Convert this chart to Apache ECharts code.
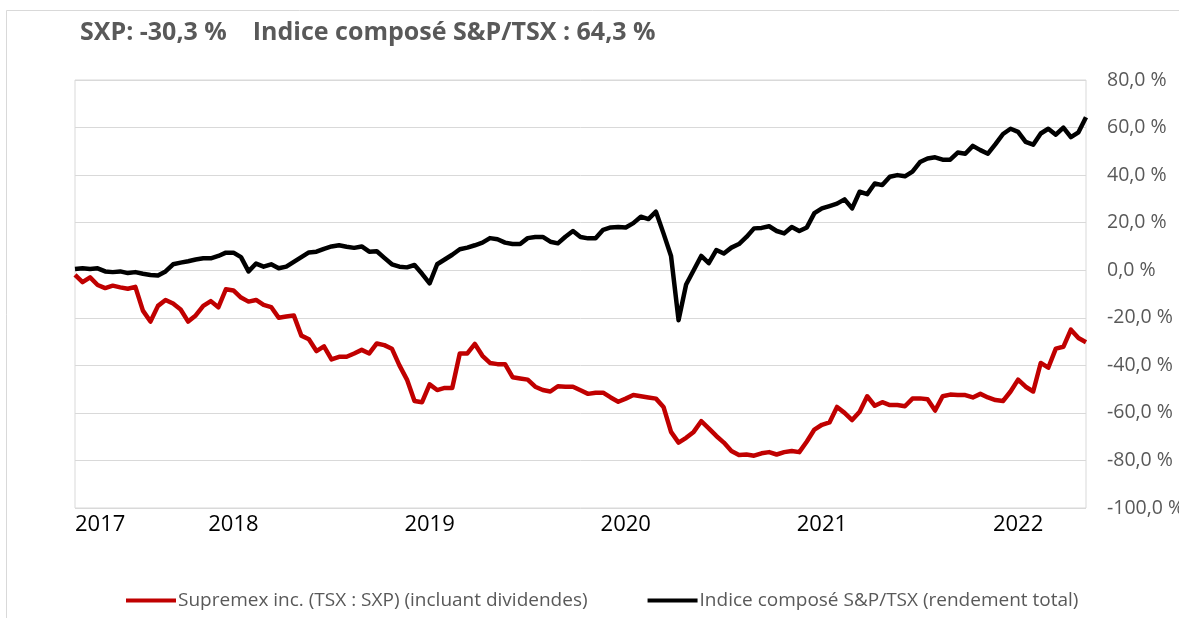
<!DOCTYPE html>
<html>
<head>
<meta charset="utf-8">
<script src="https://cdn.jsdelivr.net/npm/echarts@6/dist/echarts.min.js"></script>
<style>
html,body{margin:0;padding:0;background:#fff;}
#chart{width:1179px;height:622px;}
</style>
</head>
<body>
<div id="chart"></div>
<script>
// ---- data (biweekly, starting mid-March 2017) ----
const startDate = '2017-03-18';
const stepDays = 14;
const titleText = 'SXP: -30,3 %    Indice composé S&P/TSX : 64,3 %';
const seriesNames = ['Supremex inc. (TSX : SXP) (incluant dividendes)', 'Indice composé S&P/TSX (rendement total)'];
const yTicks = { min: -100, max: 80, interval: 20 };

const sxp = [
  -2, -5, -3, -6.2, -7.5, -6.5, -7.2, -7.8, -7, -17,
  -21.6, -15, -12.5, -14, -16.5, -21.6, -19, -15, -13, -15.6,
  -8, -8.5, -11.5, -13.2, -12.5, -14.6, -15.5, -20, -19.5, -19,
  -27.5, -29, -34, -32, -37.5, -36.4, -36.4, -35, -33.5, -35,
  -30.8, -31.5, -33, -40, -46, -55, -55.5, -48, -50.4, -49.5,
  -49.5, -35, -35, -31, -36, -39, -39.5, -39.5, -45, -45.5,
  -46, -49, -50.4, -51, -48.8, -49, -49, -50.5, -52, -51.5,
  -51.5, -53.5, -55.3, -54, -52.5, -53, -53.5, -54, -57.5, -68,
  -72.5, -70.5, -68, -63.5, -66.5, -69.7, -72.5, -76, -77.7, -77.5,
  -78, -77, -76.5, -77.5, -76.5, -76, -76.5, -72, -67, -65,
  -64, -57.5, -60, -63, -59.5, -53, -57, -55.5, -56.7, -56.7,
  -57.2, -54, -53.9, -54.3, -59, -53, -52.3, -52.5, -52.5, -53.5,
  -52, -53.5, -54.6, -55, -51, -46, -49, -51, -39, -41,
  -33, -32.2, -25, -28.5, -30.3
];

const tsx = [
  0.5, 0.8, 0.5, 0.8, -0.5, -0.8, -0.5, -1.2, -0.8, -1.5,
  -2.0, -2.2, -0.5, 2.5, 3.2, 3.8, 4.5, 5.0, 5.0, 6.0,
  7.4, 7.4, 5.5, -0.5, 2.8, 1.5, 2.5, 0.8, 1.5, 3.5,
  5.5, 7.5, 7.8, 9.0, 10.0, 10.5, 9.9, 9.4, 10.0, 7.8,
  8.0, 5.2, 2.5, 1.5, 1.2, 2.2, -1.5, -5.5, 2.5, 4.5,
  6.5, 8.8, 9.5, 10.5, 11.6, 13.5, 13.0, 11.6, 11.0, 11.0,
  13.5, 14.0, 14.0, 12.0, 11.3, 14.1, 16.5, 14.0, 13.4, 13.4,
  17.0, 18.0, 18.2, 18.0, 19.8, 22.5, 21.5, 24.6, 15.5, 6,
  -21, -6, 0, 6, 3, 8.5, 7, 9.5, 11, 14,
  17.6, 17.8, 18.5, 16.5, 15.5, 18.2, 16.5, 18, 24, 26,
  27, 28, 29.8, 26, 33, 32, 36.5, 35.8, 39.3, 40,
  39.5, 41.5, 45.5, 47, 47.5, 46.5, 46.5, 49.5, 49, 52.3,
  50.5, 49, 53, 57.3, 59.5, 58.2, 54, 52.8, 57.5, 59.5,
  57, 60, 56, 58, 64.3
];

// ---- categories (dates) ----
const dates = [];
(function(){
  const d0 = new Date(startDate + 'T00:00:00Z');
  for (let i = 0; i < sxp.length; i++) {
    const d = new Date(d0.getTime() + i * stepDays * 86400000);
    dates.push(d.toISOString().slice(0, 10));
  }
})();
const yearStartIdx = new Set();
dates.forEach((d, i) => {
  if (i === 0 || d.slice(0, 4) !== dates[i - 1].slice(0, 4)) yearStartIdx.add(i);
});

const chart = echarts.init(document.getElementById('chart'));
const option = {
  animation: false,
  backgroundColor: '#ffffff',
  title: {
    text: titleText,
    left: 80,
    top: 20,
    padding: 0,
    textStyle: { fontFamily: 'Open Sans', fontSize: 25, fontWeight: 'bold', color: '#595959' }
  },
  graphic: [
    { type: 'line', shape: { x1: 6.5, y1: 10.5, x2: 1179, y2: 10.5 }, style: { stroke: '#D9D9D9', lineWidth: 1 } },
    { type: 'line', shape: { x1: 6.5, y1: 10.5, x2: 6.5, y2: 618 }, style: { stroke: '#D9D9D9', lineWidth: 1 } }
  ],
  legend: {
    left: 126,
    top: 591,
    padding: 0,
    itemWidth: 50,
    itemHeight: 4,
    itemGap: 60,
    icon: 'rect',
    textStyle: { fontFamily: 'Open Sans', fontSize: 19, color: '#595959', padding: [0, 0, 0, -3] },
    data: seriesNames
  },
  grid: {
    left: 75, right: 93, top: 80, bottom: 114,
    show: true, borderColor: '#D9D9D9', borderWidth: 1,
    containLabel: false,
    outerBoundsMode: 'none'
  },
  xAxis: {
    type: 'category',
    data: dates,
    boundaryGap: false,
    axisLine: { show: false },
    axisTick: { show: false },
    splitLine: { show: false },
    axisLabel: {
      interval: (idx) => yearStartIdx.has(idx),
      formatter: (v) => v.slice(0, 4),
      fontFamily: 'Open Sans',
      fontSize: 22,
      color: '#000000',
      margin: 6,
      alignMinLabel: 'left',
      showMinLabel: true
    }
  },
  yAxis: {
    type: 'value',
    position: 'right',
    min: yTicks.min,
    max: yTicks.max,
    interval: yTicks.interval,
    axisLine: { show: false },
    axisTick: { show: false },
    splitLine: { show: true, lineStyle: { color: '#D9D9D9', width: 1 } },
    axisLabel: {
      formatter: (v) => v.toFixed(1).replace('.', ',') + ' %',
      fontFamily: 'Open Sans',
      fontSize: 19.5,
      color: '#595959',
      margin: 21
    }
  },
  series: [
    {
      name: seriesNames[0],
      type: 'line',
      data: sxp,
      showSymbol: false,
      lineStyle: { color: '#C00000', width: 4.5, join: 'round' },
      itemStyle: { color: '#C00000' }
    },
    {
      name: seriesNames[1],
      type: 'line',
      data: tsx,
      showSymbol: false,
      lineStyle: { color: '#000000', width: 4.5, join: 'round' },
      itemStyle: { color: '#000000' }
    }
  ]
};
chart.setOption(option);
</script>
</body>
</html>
